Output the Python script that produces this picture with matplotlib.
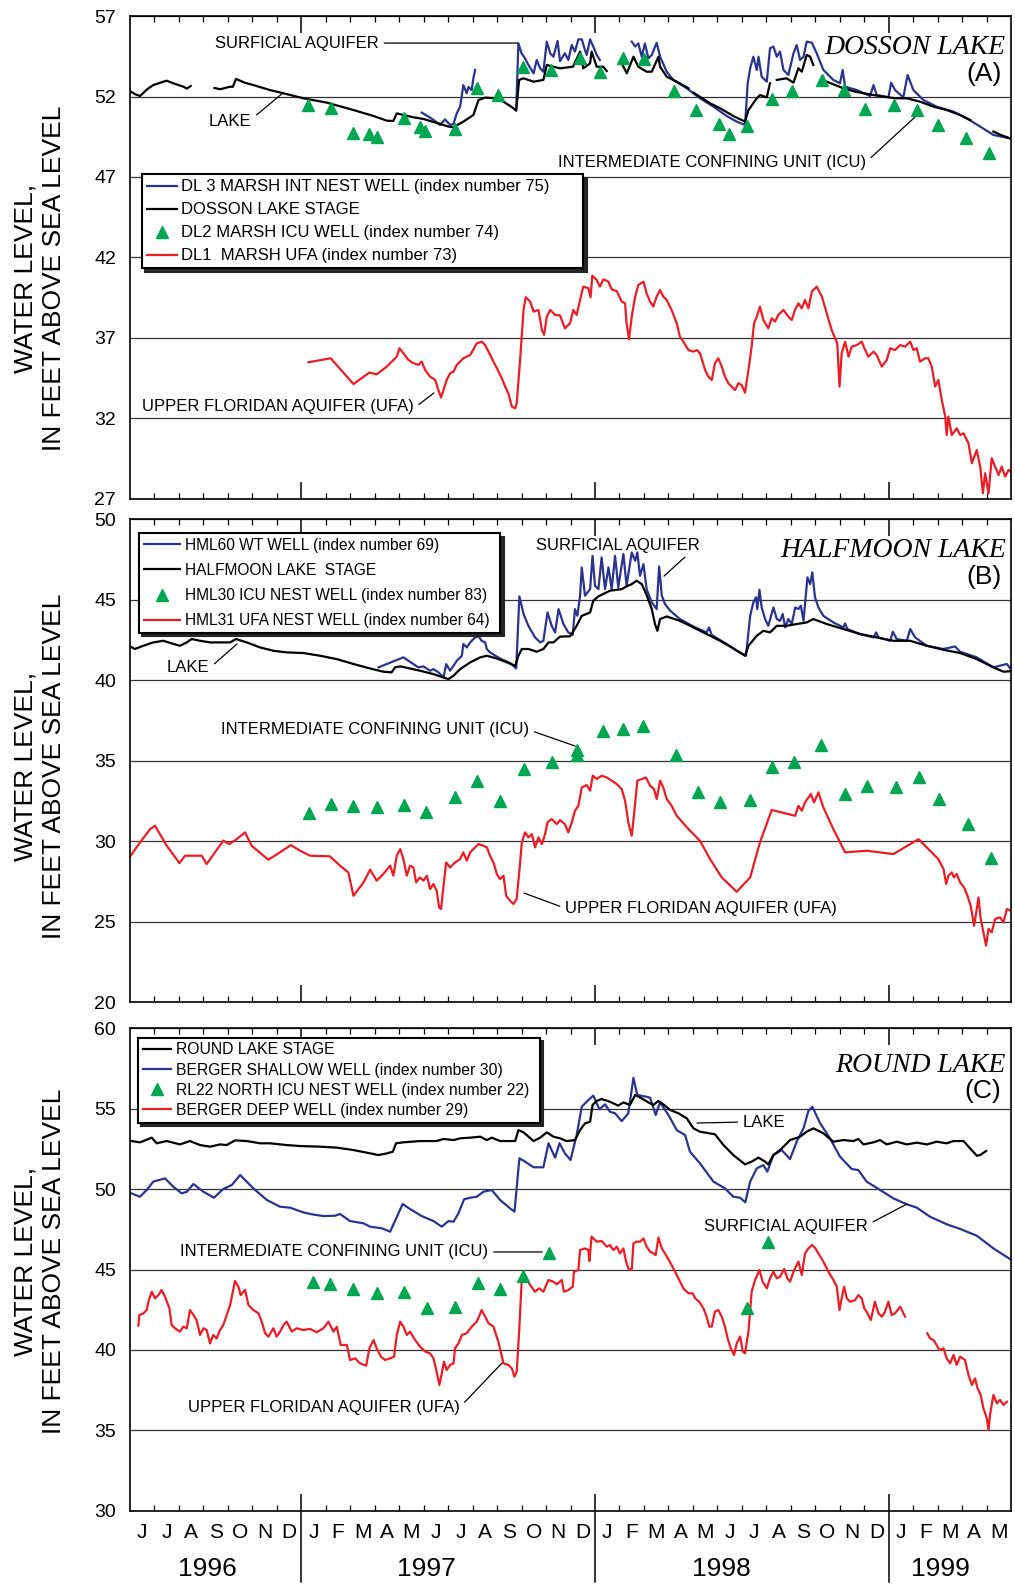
import numpy as np
import matplotlib
matplotlib.use("Agg")
import matplotlib.pyplot as plt
from matplotlib.transforms import blended_transform_factory

plt.rcParams["font.family"] = ["Liberation Sans", "DejaVu Sans"]

BLUE = "#2b3391"
RED = "#ed1c24"
GREEN = "#00a651"
GRID = "#333333"

# x is months counted from 1 Jan 1996 (5 = 1 June 1996, 41 = 1 June 1999)
MONTH_INITIALS = list("JFMAMJJASOND")
YEARS = ["1996", "1997", "1998", "1999"]
YEAR_LABEL_X = [8.15, 17.1, 29.15, 38.1]
YEAR_BREAKS = [12, 24, 36]

# ---------------- panel A : Dosson Lake ----------------
a_lake = [(5.0, 52.34), (5.2, 52.15), (5.41, 52.03), (5.7, 52.45), (5.95, 52.71), (6.36, 52.92),
          (6.5, 52.98), (6.77, 52.82), (7.0, 52.7), (7.18, 52.61), (7.32, 52.49), (7.48, 52.65), None,
          (8.45, 52.53), (8.68, 52.45), (9.09, 52.61), (9.2, 52.6), (9.33, 53.09), (9.7, 52.85),
          (10.04, 52.71), (10.72, 52.40), (11.27, 52.2), (12.08, 51.89), (13.04, 51.62), (14.13, 51.16),
          (14.95, 50.79), (15.49, 50.5), (15.76, 50.48), (15.9, 50.95), (16.17, 50.85), (16.58, 50.71),
          (17.0, 50.6), (17.26, 50.48), (17.67, 50.3), (18.01, 50.13), (18.22, 50.1), (18.62, 50.44),
          (19.03, 50.85), (19.24, 51.78), (19.51, 51.93), (19.85, 51.9), (20.26, 51.68), (20.67, 51.27),
          (20.78, 51.12), (20.9, 53.03), (21.08, 53.13), (21.49, 52.92), (21.89, 53.03), (22.03, 53.96),
          (22.3, 53.85), (22.57, 53.75), (23.1, 53.85), (23.39, 54.79), (23.52, 53.75), (23.8, 54.06),
          (23.86, 54.79), (24.07, 53.85), (24.34, 53.85), (24.48, 53.58), None,
          (25.09, 54.06), (25.3, 53.44), (25.57, 54.47), (25.77, 53.85), (26.11, 53.54), (26.32, 53.54),
          (26.59, 54.47), (26.66, 53.85), (26.93, 53.23), (27.34, 52.92), (27.82, 52.51), None,
          (28.02, 52.24), (28.7, 51.58), (29.11, 51.27), (29.65, 50.79), (30.13, 50.44), (30.27, 51.16),
          (30.61, 51.89), (30.74, 52.09), (31.02, 51.95), (31.15, 52.82), None,
          (31.43, 53.03), (31.83, 53.13), (32.11, 52.86), (32.31, 53.75), (32.45, 53.54), (32.65, 54.58),
          (32.79, 54.48), (32.92, 53.96), None,
          (33.47, 52.92), (34.15, 52.51), (34.63, 52.3), (35.38, 52.09), (36.26, 51.89), (36.74, 51.89),
          (37.28, 51.68), (37.83, 51.37), (38.37, 51.16), (38.92, 50.85), (39.33, 50.54), None,
          (40.28, 49.82), (40.6, 49.6), (40.96, 49.4)]

a_surf = [(16.92, 51.0), (17.19, 50.75), (17.4, 50.55), (17.67, 50.23), (17.87, 50.58), (18.08, 50.23),
          (18.22, 50.3), (18.35, 50.95), (18.49, 51.37), (18.62, 52.71), (18.76, 52.2), (18.83, 52.6),
          (18.96, 52.4), (19.03, 53.13), (19.1, 53.65), None,
          (20.78, 51.16), (20.87, 55.3), (21.0, 54.68), (21.14, 54.37), (21.28, 53.96), (21.49, 53.44),
          (21.62, 54.27), (21.76, 53.75), (21.89, 53.54), (22.03, 55.41), (22.17, 54.68), (22.3, 54.47),
          (22.47, 55.45), (22.57, 54.2), (22.77, 54.68), (22.91, 54.27), (23.05, 55.2), (23.18, 54.79),
          (23.32, 55.55), (23.46, 55.55), (23.59, 54.89), (23.66, 54.58), (23.8, 55.55), (23.93, 55.1),
          (24.07, 54.58), (24.2, 54.27), None,
          (25.5, 55.41), (25.64, 55.1), (25.77, 55.3), (25.91, 54.47), (26.04, 55.3), (26.18, 54.37),
          (26.32, 54.58), (26.52, 55.34), (26.66, 54.47), (26.93, 53.54), (27.2, 53.03), (27.75, 52.51),
          (28.29, 51.89), (28.84, 51.37), (29.38, 50.79), (29.79, 50.44), (30.13, 50.23), (30.24, 52.82),
          (30.34, 53.75), (30.47, 54.47), (30.61, 53.65), (30.68, 54.47), (30.81, 53.23), (31.02, 52.92),
          (31.15, 54.99), (31.29, 55.1), (31.43, 54.47), (31.56, 54.79), (31.7, 53.65), (31.9, 53.34),
          (32.11, 54.68), (32.24, 55.2), (32.38, 54.27), (32.52, 54.47), (32.65, 55.41), (32.86, 55.34),
          (33.06, 54.68), (33.33, 53.65), (33.74, 53.03), (34.01, 52.82), (34.12, 53.65), (34.22, 52.61),
          (34.7, 52.4), (35.24, 52.03), (35.38, 52.71), (35.51, 52.09), (35.99, 51.95), (36.1, 52.86),
          (36.26, 52.4), (36.6, 51.95), (36.77, 53.34), (37.01, 52.4), (37.42, 51.78), (37.96, 51.37),
          (38.65, 51.06), (39.19, 50.64), (39.74, 50.13), (40.28, 49.61), (40.96, 49.4)]

a_icu_m = [12.29, 13.2, 14.13, 14.77, 15.11, 16.21, 16.85, 17.06, 18.28, 19.17, 20.05, 21.05, 22.19,
           23.39, 24.2, 25.13, 26.0, 27.23, 28.13, 29.08, 29.48, 30.23, 31.25, 32.04, 33.26, 34.18,
           35.04, 36.23, 37.15, 38.03, 39.16, 40.08]
a_icu_v = [51.47, 51.31, 49.71, 49.65, 49.51, 50.64, 50.13, 49.88, 49.96, 52.51, 52.09, 53.85, 53.65,
           54.37, 53.54, 54.37, 54.31, 52.34, 51.16, 50.29, 49.67, 50.19, 51.82, 52.34, 53.03, 52.4,
           51.2, 51.47, 51.16, 50.23, 49.4, 48.51]

a_ufa = [(12.29, 35.49), (13.2, 35.74), (14.13, 34.14), (14.78, 34.85), (15.08, 34.74), (15.49, 35.22),
         (15.9, 35.84), (16.01, 36.36), (16.17, 36.05), (16.38, 35.63), (16.58, 35.43), (16.78, 35.33),
         (16.92, 35.53), (17.06, 35.01), (17.26, 34.6), (17.47, 34.39), (17.6, 33.77), (17.71, 33.3),
         (17.81, 33.77), (17.94, 34.39), (18.08, 34.81), (18.22, 34.91), (18.35, 35.32), (18.62, 35.74),
         (18.9, 35.94), (19.17, 36.67), (19.37, 36.77), (19.51, 36.56), (19.65, 36.15), (19.78, 35.74),
         (19.99, 35.12), (20.19, 34.5), (20.33, 33.98), (20.46, 33.56), (20.6, 32.74), (20.74, 32.63),
         (20.8, 32.94), (20.94, 35.63), (21.08, 38.74), (21.17, 39.53), (21.35, 39.26), (21.49, 38.64),
         (21.69, 38.74), (21.83, 37.5), (21.92, 37.19), (22.03, 38.33), (22.17, 38.74), (22.37, 38.43),
         (22.57, 38.4), (22.77, 37.6), (22.98, 37.91), (23.11, 38.74), (23.25, 38.43), (23.39, 39.36),
         (23.52, 40.19), (23.73, 40.09), (23.82, 39.53), (23.89, 40.87), (24.07, 40.6), (24.2, 40.19),
         (24.34, 40.64), (24.55, 40.5), (24.68, 40.02), (24.89, 39.91), (25.09, 39.26), (25.23, 39.15),
         (25.29, 37.91), (25.39, 36.92), (25.5, 38.33), (25.64, 39.57), (25.77, 40.29), (25.98, 40.5),
         (26.11, 39.77), (26.25, 39.26), (26.38, 38.95), (26.52, 39.57), (26.66, 39.98), (26.79, 39.57),
         (26.93, 39.36), (27.13, 38.74), (27.34, 37.91), (27.47, 37.08), (27.61, 36.77), (27.82, 36.25),
         (28.02, 36.15), (28.16, 36.25), (28.29, 36.05), (28.5, 35.01), (28.63, 34.6), (28.77, 34.39),
         (28.9, 35.43), (29.04, 35.74), (29.18, 35.22), (29.31, 34.6), (29.45, 34.19), (29.58, 33.98),
         (29.72, 33.77), (29.86, 34.19), (29.99, 34.08), (30.13, 33.6), (30.27, 35.01), (30.4, 36.46),
         (30.5, 37.91), (30.61, 38.33), (30.74, 38.95), (30.88, 38.12), (31.08, 37.6), (31.22, 38.22),
         (31.36, 38.02), (31.49, 38.43), (31.7, 38.74), (31.9, 38.33), (32.04, 38.12), (32.17, 38.74),
         (32.31, 39.15), (32.45, 38.84), (32.58, 39.36), (32.72, 38.84), (32.86, 39.88), (33.06, 40.19),
         (33.27, 39.57), (33.47, 38.53), (33.67, 37.5), (33.81, 36.98), (33.9, 36.67), (33.99, 33.98),
         (34.08, 36.05), (34.22, 36.77), (34.36, 35.84), (34.49, 36.46), (34.7, 36.56), (34.9, 36.77),
         (35.04, 36.25), (35.17, 35.84), (35.38, 36.15), (35.51, 35.94), (35.72, 35.22), (35.92, 35.63),
         (36.06, 36.36), (36.26, 36.25), (36.47, 36.56), (36.67, 36.46), (36.88, 36.77), (37.01, 36.25),
         (37.15, 36.36), (37.28, 35.53), (37.49, 35.74), (37.62, 35.74), (37.76, 35.22), (37.9, 33.98),
         (38.03, 34.39), (38.17, 33.15), (38.31, 32.12), (38.37, 30.97), (38.44, 32.12), (38.58, 30.97),
         (38.78, 31.39), (38.92, 30.97), (39.06, 31.08), (39.26, 30.46), (39.4, 29.22), (39.6, 30.04),
         (39.74, 29.01), (39.85, 27.35), (39.94, 28.6), (40.08, 27.35), (40.21, 29.53), (40.35, 29.01),
         (40.49, 28.49), (40.62, 29.01), (40.76, 28.39), (40.9, 28.8), (40.99, 28.7)]

# ---------------- panel B : Halfmoon Lake ----------------
b_lake = [(5.0, 42.09), (5.2, 41.93), (5.54, 42.13), (5.95, 42.34), (6.36, 42.44), (6.7, 42.28),
          (7.04, 42.13), (7.32, 42.34), (7.52, 42.55), (7.86, 42.44), (8.27, 42.34), (8.68, 42.34),
          (9.09, 42.34), (9.33, 42.55), (9.77, 42.34), (10.31, 42.03), (10.86, 41.82), (11.4, 41.72),
          (12.08, 41.68), (12.77, 41.51), (13.45, 41.3), (14.13, 41.0), (14.81, 40.72), (15.35, 40.52),
          (15.69, 40.48), (15.83, 40.79), (16.04, 40.85), (16.44, 40.72), (16.85, 40.58), (17.4, 40.37),
          (17.81, 40.16), (18.01, 40.06), (18.22, 40.27), (18.49, 40.68), (18.9, 41.1), (19.31, 41.41),
          (19.58, 41.51), (19.99, 41.34), (20.4, 41.1), (20.74, 40.89), (20.87, 41.51), (21.01, 41.93),
          (21.28, 41.93), (21.62, 41.76), (21.89, 41.93), (22.1, 42.34), (22.3, 42.34), (22.57, 42.7),
          (22.98, 42.72), (23.25, 43.37), (23.46, 43.99), (23.8, 44.2), (23.93, 44.93), (24.14, 45.2),
          (24.61, 45.55), (25.09, 45.65), (25.29, 45.82), (25.5, 45.96), (25.7, 46.17), (25.91, 45.96),
          (26.11, 45.28), (26.32, 44.41), (26.45, 43.48), (26.55, 43.06), (26.66, 43.79), (26.93, 43.95),
          (27.47, 43.68), (28.02, 43.27), (28.56, 42.86), (29.11, 42.44), (29.65, 41.97), (30.13, 41.51),
          (30.27, 42.13), (30.61, 42.75), (30.88, 43.06), (31.15, 42.96), (31.43, 43.37), (31.83, 43.37),
          (32.24, 43.48), (32.65, 43.58), (32.92, 43.79), (33.47, 43.48), (34.15, 43.17), (34.83, 42.86),
          (35.51, 42.65), (36.19, 42.44), (36.87, 42.44), (37.56, 42.13), (38.24, 41.88), (38.92, 41.68),
          (39.6, 41.3), (40.28, 40.79), (40.69, 40.52), (41.0, 40.55)]

b_surf = [(15.15, 40.79), (16.17, 41.41), (16.78, 40.79), (16.99, 40.85), (17.26, 40.58), (17.4, 40.68),
          (17.6, 40.48), (17.81, 40.17), (17.92, 40.99), (18.08, 40.58), (18.22, 40.89), (18.35, 41.2),
          (18.56, 41.51), (18.62, 42.24), (18.76, 42.03), (18.9, 42.34), (19.1, 42.65), (19.24, 42.72),
          (19.37, 42.44), (19.51, 42.34), (19.58, 41.93), (19.71, 41.72), (20.12, 41.34), (20.53, 41.06),
          (20.78, 40.72), (20.91, 45.2), (21.08, 44.1), (21.28, 43.37), (21.55, 42.65), (21.76, 42.34),
          (21.89, 42.44), (22.06, 44.2), (22.23, 43.37), (22.37, 42.96), (22.51, 44.41), (22.71, 43.48),
          (22.91, 42.96), (23.09, 42.8), (23.18, 44.41), (23.28, 43.99), (23.39, 45.24), (23.46, 47.0),
          (23.59, 45.24), (23.8, 45.65), (23.9, 47.72), (24.0, 45.86), (24.14, 45.65), (24.27, 47.62),
          (24.41, 45.65), (24.55, 47.0), (24.68, 45.65), (24.82, 47.72), (24.95, 45.76), (25.16, 47.83),
          (25.29, 45.86), (25.5, 47.93), (25.64, 47.41), (25.73, 47.93), (25.84, 46.48), (25.98, 47.2),
          (26.11, 45.65), (26.32, 44.82), (26.52, 44.41), (26.62, 47.06), (26.73, 45.24), (26.86, 44.72),
          (27.07, 44.31), (27.47, 43.79), (28.02, 43.33), (28.56, 42.96), (28.66, 43.27), (28.77, 42.8),
          (29.38, 42.24), (29.79, 41.82), (30.17, 41.51), (30.34, 43.99), (30.47, 44.82), (30.58, 45.14),
          (30.63, 44.41), (30.72, 45.61), (30.81, 44.51), (30.95, 43.79), (31.08, 43.37), (31.29, 44.51),
          (31.43, 43.79), (31.56, 43.68), (31.67, 44.1), (31.77, 43.27), (31.9, 43.79), (32.04, 43.48),
          (32.18, 44.51), (32.31, 44.41), (32.41, 44.62), (32.52, 43.68), (32.68, 46.38), (32.79, 45.96),
          (32.88, 46.69), (32.99, 45.14), (33.13, 44.51), (33.33, 43.99), (33.74, 43.58), (34.15, 43.27),
          (34.22, 43.52), (34.31, 43.17), (34.83, 42.86), (35.38, 42.65), (35.49, 42.96), (35.58, 42.65),
          (36.06, 42.44), (36.17, 43.0), (36.33, 42.55), (36.74, 42.44), (36.88, 43.17), (37.08, 42.65),
          (37.56, 42.13), (38.24, 41.93), (38.71, 42.09), (38.92, 41.76), (39.6, 41.41), (40.28, 40.79),
          (40.83, 41.0), (41.0, 40.65)]

b_icu_m = [12.32, 13.22, 14.13, 15.08, 16.2, 17.1, 18.28, 19.17, 20.1, 21.1, 22.23, 23.28, 23.28,
           24.34, 25.16, 25.98, 27.3, 28.2, 29.11, 30.34, 31.22, 32.15, 33.24, 34.22, 35.13, 36.3,
           37.22, 38.07, 39.23, 40.19]
b_icu_v = [31.74, 32.3, 32.15, 32.13, 32.24, 31.82, 32.71, 33.75, 32.5, 34.47, 34.89, 35.65, 35.35,
           36.85, 36.96, 37.12, 35.34, 33.02, 32.44, 32.55, 34.57, 34.89, 35.96, 32.92, 33.44, 33.33,
           33.95, 32.61, 31.06, 28.92]

b_ufa = [(5.0, 29.03), (5.41, 29.92), (5.82, 30.74), (6.02, 30.95), (6.5, 29.71), (7.02, 28.63),
         (7.25, 29.09), (7.93, 29.09), (8.13, 28.57), (8.47, 29.3), (8.81, 30.02), (9.06, 29.81),
         (9.36, 30.12), (9.7, 30.54), (9.97, 29.71), (10.65, 28.84), (11.13, 29.3), (11.57, 29.75),
         (11.95, 29.4), (12.36, 29.09), (13.17, 29.05), (13.58, 28.47), (13.92, 28.05), (14.13, 26.6),
         (14.54, 27.43), (14.81, 28.22), (15.08, 27.54), (15.35, 27.95), (15.63, 28.47), (15.76, 27.85),
         (15.9, 29.09), (16.04, 29.5), (16.17, 28.88), (16.31, 27.85), (16.44, 28.47), (16.58, 28.36),
         (16.69, 27.43), (16.85, 27.74), (16.99, 27.54), (17.13, 27.85), (17.26, 27.02), (17.4, 27.33),
         (17.53, 26.91), (17.63, 25.88), (17.71, 25.78), (17.81, 27.22), (17.92, 28.67), (18.08, 28.36),
         (18.28, 28.67), (18.49, 28.88), (18.62, 29.3), (18.76, 28.78), (18.9, 29.3), (19.03, 29.5),
         (19.24, 29.81), (19.44, 29.71), (19.58, 29.61), (19.71, 29.09), (19.85, 28.67), (19.99, 27.95),
         (20.12, 27.64), (20.26, 27.85), (20.37, 26.6), (20.53, 26.29), (20.67, 26.09), (20.8, 26.4),
         (20.94, 28.67), (21.01, 29.92), (21.14, 30.54), (21.28, 30.23), (21.42, 30.43), (21.55, 29.61),
         (21.69, 30.23), (21.83, 29.81), (21.96, 30.43), (22.06, 31.16), (22.23, 31.37), (22.44, 31.05),
         (22.57, 31.3), (22.77, 31.05), (22.91, 30.54), (23.05, 31.16), (23.18, 31.88), (23.32, 32.19),
         (23.46, 33.33), (23.66, 33.48), (23.8, 33.13), (23.91, 34.06), (24.07, 33.85), (24.27, 34.06),
         (24.48, 33.95), (24.68, 33.75), (24.89, 33.54), (25.09, 33.23), (25.23, 32.5), (25.36, 31.16),
         (25.5, 30.33), (25.59, 31.57), (25.73, 33.75), (25.91, 33.85), (26.08, 33.95), (26.25, 33.44),
         (26.41, 33.23), (26.52, 32.61), (26.66, 33.75), (26.79, 33.33), (26.93, 32.61), (27.13, 32.19),
         (27.34, 31.57), (27.82, 30.74), (28.29, 30.02), (28.7, 28.88), (29.18, 27.74), (29.79, 26.85),
         (30.34, 27.74), (30.74, 29.92), (31.22, 31.93), (32.18, 31.57), (32.31, 32.19), (32.45, 31.88),
         (32.58, 32.4), (32.72, 32.71), (32.82, 32.92), (32.95, 32.4), (33.13, 33.02), (33.33, 32.09),
         (33.74, 30.74), (34.22, 29.3), (35.1, 29.4), (36.19, 29.19), (37.22, 30.12), (38.03, 28.88),
         (38.24, 28.26), (38.35, 27.33), (38.44, 27.85), (38.58, 28.05), (38.67, 27.74), (38.78, 27.95),
         (38.92, 27.43), (39.08, 27.12), (39.22, 26.6), (39.35, 25.98), (39.49, 24.74), (39.6, 25.78),
         (39.67, 26.5), (39.76, 25.16), (39.87, 24.33), (39.98, 23.5), (40.08, 24.54), (40.21, 24.33),
         (40.35, 25.16), (40.55, 25.26), (40.69, 24.95), (40.83, 25.78), (40.99, 25.67)]

# ---------------- panel C : Round Lake ----------------
c_lake = [(5.05, 52.98), (5.41, 52.9), (5.89, 53.19), (6.09, 52.84), (6.5, 52.98), (7.04, 52.77),
          (7.45, 52.98), (7.86, 52.73), (8.27, 52.63), (8.68, 52.77), (8.95, 52.73), (9.29, 53.02),
          (9.77, 52.98), (10.31, 52.84), (10.72, 52.84), (11.4, 52.73), (11.95, 52.67), (12.77, 52.63),
          (13.45, 52.57), (14.13, 52.42), (14.67, 52.26), (15.15, 52.11), (15.49, 52.21), (15.74, 52.32),
          (15.87, 52.84), (16.17, 52.9), (16.85, 52.98), (17.53, 52.98), (17.81, 53.11), (18.22, 53.04),
          (18.49, 53.15), (18.9, 53.19), (19.31, 53.25), (19.58, 53.04), (19.78, 53.19), (20.12, 52.98),
          (20.74, 52.98), (20.87, 53.66), (21.08, 53.52), (21.49, 52.98), (21.76, 53.19), (22.03, 53.52),
          (22.3, 53.25), (22.57, 53.15), (22.84, 52.98), (23.18, 53.04), (23.39, 53.66), (23.59, 54.08),
          (23.8, 54.18), (23.9, 55.22), (24.07, 55.47), (24.27, 55.59), (24.61, 55.42), (24.95, 55.18),
          (25.16, 55.38), (25.43, 55.22), (25.64, 55.84), (25.91, 55.63), (26.18, 55.38), (26.38, 55.22),
          (26.59, 55.47), (26.79, 55.26), (27.07, 54.91), (27.41, 54.7), (27.75, 54.39), (28.02, 53.77),
          (28.29, 53.56), (28.9, 53.4), (29.25, 52.73), (29.65, 52.11), (30.13, 51.53), (30.4, 51.7),
          (30.68, 51.95), (30.95, 51.7), (31.08, 51.53), (31.29, 52.11), (31.56, 52.42), (31.97, 53.04),
          (32.38, 53.25), (32.65, 53.56), (32.92, 53.77), (33.33, 53.46), (33.74, 52.94), (34.15, 53.04),
          (34.56, 52.98), (34.76, 53.11), (34.97, 52.77), (35.38, 52.9), (35.65, 53.04), (35.92, 52.77),
          (36.33, 52.94), (36.74, 52.77), (37.15, 52.88), (37.56, 52.77), (37.96, 52.94), (38.37, 52.84),
          (38.65, 52.98), (39.06, 52.98), (39.33, 52.52), (39.6, 52.07), (39.74, 52.11), (39.98, 52.36)]

c_surf = [(5.05, 49.73), (5.41, 49.52), (5.68, 49.94), (5.95, 50.46), (6.43, 50.66), (6.77, 50.14),
          (7.11, 49.73), (7.32, 49.83), (7.59, 50.31), (8.0, 49.83), (8.43, 49.46), (8.81, 50.0),
          (9.16, 50.25), (9.5, 50.87), (10.04, 50.04), (10.59, 49.32), (11.13, 48.9), (11.54, 48.84),
          (12.08, 48.55), (12.43, 48.43), (12.9, 48.32), (13.38, 48.34), (13.58, 48.45), (13.99, 48.01),
          (14.54, 47.87), (14.81, 47.66), (15.29, 47.56), (15.63, 47.35), (16.14, 49.07), (16.44, 48.76),
          (16.92, 48.32), (17.4, 48.01), (17.74, 47.66), (18.01, 48.01), (18.22, 47.97), (18.42, 48.49),
          (18.65, 49.36), (18.9, 49.46), (19.17, 49.52), (19.44, 49.83), (19.78, 49.94), (20.12, 49.32),
          (20.53, 48.8), (20.71, 48.59), (20.91, 51.91), (21.14, 51.7), (21.49, 51.35), (21.89, 51.35),
          (22.1, 52.84), (22.37, 51.95), (22.55, 52.84), (22.77, 52.22), (23.0, 51.8), (23.25, 53.35),
          (23.46, 55.11), (23.73, 55.53), (23.93, 55.8), (24.18, 54.95), (24.41, 55.26), (24.61, 54.8),
          (24.82, 54.7), (25.09, 54.22), (25.36, 54.7), (25.57, 56.91), (25.73, 55.84), (26.11, 55.73),
          (26.25, 55.67), (26.48, 54.6), (26.66, 55.38), (27.0, 54.6), (27.34, 53.66), (27.68, 53.35),
          (27.88, 52.32), (28.29, 51.59), (28.84, 50.46), (29.31, 50.04), (29.65, 49.52), (29.93, 49.46),
          (30.14, 49.17), (30.34, 50.46), (30.61, 51.28), (30.88, 51.49), (31.04, 51.08), (31.29, 52.11),
          (31.63, 52.42), (31.97, 51.86), (32.24, 52.94), (32.52, 53.77), (32.72, 54.85), (32.88, 55.11),
          (33.2, 54.08), (33.6, 53.15), (34.01, 52.01), (34.49, 51.24), (34.76, 51.18), (35.1, 50.46),
          (35.65, 49.94), (36.19, 49.42), (36.74, 49.05), (37.15, 48.84), (37.69, 48.28), (38.37, 47.81),
          (38.92, 47.52), (39.6, 47.1), (40.28, 46.31), (40.96, 45.65)]

c_icu_m = [12.49, 13.17, 14.1, 15.11, 16.21, 17.12, 18.28, 19.2, 20.12, 21.04, 22.14, 30.2, 31.06]
c_icu_v = [44.24, 44.08, 43.79, 43.52, 43.58, 42.63, 42.65, 44.14, 43.79, 44.6, 46.0, 42.63, 46.73]

c_ufa = [(5.34, 41.51), (5.38, 42.17), (5.54, 42.27), (5.68, 42.48), (5.75, 43.0), (5.89, 43.62),
         (6.02, 43.21), (6.16, 43.41), (6.29, 43.73), (6.43, 43.31), (6.61, 42.59), (6.7, 41.55),
         (6.84, 41.35), (7.04, 41.14), (7.18, 41.45), (7.32, 41.35), (7.45, 42.48), (7.59, 42.17),
         (7.72, 41.86), (7.86, 40.93), (8.0, 41.35), (8.13, 41.24), (8.27, 40.41), (8.4, 40.93),
         (8.54, 40.72), (8.68, 41.24), (8.81, 41.55), (8.95, 42.17), (9.09, 42.79), (9.2, 43.62),
         (9.29, 44.29), (9.43, 43.93), (9.52, 43.41), (9.7, 43.73), (9.84, 42.79), (10.04, 42.48),
         (10.25, 42.28), (10.38, 41.76), (10.52, 41.04), (10.65, 40.83), (10.86, 41.35), (10.99, 40.83),
         (11.13, 41.14), (11.27, 41.55), (11.4, 41.76), (11.61, 41.14), (11.81, 41.35), (12.08, 41.24),
         (12.36, 41.31), (12.63, 41.1), (12.9, 41.35), (13.11, 41.76), (13.31, 41.14), (13.45, 41.45),
         (13.61, 40.31), (13.86, 40.31), (13.99, 39.38), (14.2, 39.48), (14.4, 39.17), (14.65, 39.03),
         (14.78, 40.1), (14.95, 40.62), (15.08, 40.1), (15.25, 39.59), (15.42, 39.38), (15.63, 39.48),
         (15.79, 39.59), (15.9, 40.93), (16.04, 41.76), (16.17, 41.45), (16.31, 40.93), (16.44, 41.14),
         (16.65, 40.62), (16.85, 40.21), (17.06, 39.9), (17.26, 39.79), (17.4, 39.48), (17.53, 38.65),
         (17.64, 37.83), (17.74, 38.55), (17.83, 39.28), (17.94, 38.76), (18.08, 39.07), (18.22, 39.17),
         (18.28, 40.1), (18.42, 40.41), (18.56, 40.93), (18.76, 41.04), (18.96, 41.45), (19.17, 41.76),
         (19.37, 42.48), (19.51, 42.07), (19.65, 41.66), (19.85, 41.45), (20.05, 40.52), (20.26, 39.17),
         (20.46, 39.07), (20.6, 38.86), (20.71, 38.34), (20.8, 38.65), (20.9, 41.14), (21.01, 44.45),
         (21.14, 44.55), (21.35, 44.04), (21.55, 43.62), (21.72, 43.83), (21.89, 43.62), (22.1, 44.35),
         (22.3, 44.24), (22.44, 44.08), (22.64, 44.35), (22.73, 43.62), (22.91, 43.72), (23.09, 43.93),
         (23.14, 44.86), (23.32, 44.97), (23.39, 46.21), (23.59, 46.31), (23.73, 46.21), (23.77, 45.53),
         (23.86, 47.04), (24.07, 46.73), (24.27, 46.77), (24.48, 46.42), (24.61, 46.52), (24.75, 46.21),
         (24.89, 46.42), (25.02, 46.0), (25.16, 46.31), (25.27, 45.49), (25.36, 45.07), (25.5, 44.97),
         (25.57, 46.62), (25.7, 46.73), (25.84, 46.73), (25.98, 46.93), (26.11, 46.42), (26.25, 46.11),
         (26.38, 46.0), (26.48, 45.9), (26.59, 46.98), (26.73, 46.31), (26.9, 45.9), (27.13, 45.28),
         (27.34, 44.66), (27.61, 43.83), (27.82, 43.52), (27.99, 43.52), (28.09, 43.21), (28.26, 43.0),
         (28.43, 42.59), (28.56, 42.07), (28.67, 41.45), (28.77, 41.45), (28.9, 42.38), (29.04, 42.48),
         (29.18, 42.07), (29.31, 41.45), (29.42, 40.72), (29.55, 40.1), (29.68, 39.69), (29.79, 40.41),
         (29.93, 40.83), (30.04, 39.9), (30.13, 39.79), (30.27, 41.14), (30.4, 43.62), (30.54, 44.35),
         (30.72, 44.97), (30.85, 44.24), (31.02, 43.83), (31.15, 44.45), (31.29, 44.86), (31.43, 44.45),
         (31.56, 44.55), (31.73, 45.03), (31.86, 44.45), (31.97, 44.24), (32.11, 44.86), (32.31, 45.49),
         (32.45, 44.66), (32.58, 46.0), (32.72, 46.31), (32.86, 46.52), (32.99, 46.35), (33.13, 46.0),
         (33.33, 45.49), (33.54, 44.86), (33.74, 44.35), (33.88, 43.93), (33.99, 42.48), (34.08, 43.21),
         (34.18, 43.93), (34.29, 43.21), (34.42, 43.0), (34.63, 43.1), (34.76, 43.41), (34.9, 43.21),
         (35.0, 42.59), (35.1, 42.38), (35.27, 41.86), (35.44, 43.0), (35.58, 42.28), (35.72, 42.07),
         (35.85, 42.38), (35.99, 43.0), (36.12, 42.17), (36.26, 42.28), (36.47, 42.69), (36.67, 42.07), None,
         (37.58, 41.04), (37.69, 40.72), (37.83, 40.62), (37.96, 40.31), (38.07, 40.0), (38.24, 40.1),
         (38.37, 39.48), (38.51, 39.17), (38.65, 39.69), (38.78, 39.07), (38.92, 39.59), (39.12, 39.38),
         (39.26, 38.45), (39.4, 37.83), (39.53, 38.24), (39.63, 37.62), (39.76, 37.21), (39.87, 36.38),
         (40.01, 35.76), (40.08, 35.03), (40.14, 35.96), (40.28, 37.21), (40.42, 36.69), (40.55, 36.9),
         (40.69, 36.59), (40.83, 36.79)]


def split(points):
    xs = [np.nan if p is None else p[0] for p in points]
    ys = [np.nan if p is None else p[1] for p in points]
    return xs, ys


def setup(ax, ymin, ymax):
    ax.set_xlim(5, 41)
    ax.set_ylim(ymin, ymax)
    ax.set_yticks(np.arange(ymin, ymax + 1, 5))
    ax.yaxis.grid(True, color=GRID, lw=0.9)
    ax.set_axisbelow(True)
    ax.set_xticks(YEAR_BREAKS)
    ax.set_xticks([m for m in range(6, 41) if m % 12], minor=True)
    ax.tick_params(axis="x", which="major", direction="in", length=12, width=1.1,
                   top=True, labelbottom=False)
    ax.tick_params(axis="x", which="minor", direction="in", length=4, width=0.9, top=True)
    ax.tick_params(axis="y", length=0, labelsize=14, pad=10)
    for s in ax.spines.values():
        s.set_linewidth(1.2)


def draw(ax, lake, surf, icu_m, icu_v, ufa):
    hs = ax.plot(*split(surf), color=BLUE, lw=1.6)[0]
    hl = ax.plot(*split(lake), color="black", lw=1.6)[0]
    hu = ax.plot(*split(ufa), color=RED, lw=1.6)[0]
    hi = ax.plot(icu_m, icu_v, ls="none", marker="^", ms=8, color=GREEN, zorder=4)[0]
    return hs, hl, hi, hu


def legend(ax, handles, labels, box, size, spacing, hlen, hpad):
    leg = ax.legend(handles, labels, loc="upper left", bbox_to_anchor=box, mode="expand",
                    fontsize=size, frameon=True, fancybox=False, edgecolor="black", framealpha=1,
                    shadow={"ox": 2.5, "oy": -2.5, "color": "0.15", "alpha": 1},
                    handlelength=hlen, handletextpad=hpad, labelspacing=spacing, borderpad=0.3,
                    numpoints=1, borderaxespad=0)
    leg.get_frame().set_linewidth(1.5)


def note(ax, text, xytext, xy, relpos=(1, 0.5)):
    ax.annotate(text, xy=xy, xytext=xytext, fontsize=12, ha="left", va="center",
                arrowprops=dict(arrowstyle="-", color="black", lw=0.9, shrinkA=2, shrinkB=0,
                                relpos=relpos))


def title(ax, name, letter, y):
    ax.text(0.994, y, name, transform=ax.transAxes, ha="right", va="center", fontsize=20,
            family=["Liberation Serif", "DejaVu Serif"], style="italic")
    ax.text(0.989, y - 0.054, letter, transform=ax.transAxes, ha="right", va="center", fontsize=19)


fig = plt.figure(figsize=(10.15, 15.85), dpi=100)
ax_a = fig.add_axes([0.1281, 0.6852, 0.868, 0.3047])
ax_b = fig.add_axes([0.1281, 0.3678, 0.868, 0.3047])
ax_c = fig.add_axes([0.1281, 0.0467, 0.868, 0.3047])

# panel A
setup(ax_a, 27, 57)
hs, hl, hi, hu = draw(ax_a, a_lake, a_surf, a_icu_m, a_icu_v, a_ufa)
legend(ax_a, [hs, hl, hi, hu],
       ["DL 3 MARSH INT NEST WELL (index number 75)", "DOSSON LAKE STAGE",
        "DL2 MARSH ICU WELL (index number 74)", "DL1  MARSH UFA (index number 73)"],
       (0.0133, 0.47, 0.501, 0.202), 12, 0.48, 1.8, 0.28)
title(ax_a, "DOSSON LAKE", "(A)", 0.934)
note(ax_a, "SURFICIAL AQUIFER", (8.47, 55.32), (20.85, 55.32))
note(ax_a, "LAKE", (8.23, 50.42), (11.25, 52.22), relpos=(1, 0.7))
note(ax_a, "INTERMEDIATE CONFINING UNIT (ICU)", (22.49, 47.93), (37.08, 50.73))
note(ax_a, "UPPER FLORIDAN AQUIFER (UFA)", (5.49, 32.72), (17.42, 33.59), relpos=(1, 0.4))

# panel B
setup(ax_b, 20, 50)
hs, hl, hi, hu = draw(ax_b, b_lake, b_surf, b_icu_m, b_icu_v, b_ufa)
legend(ax_b, [hs, hl, hi, hu],
       ["HML60 WT WELL (index number 69)", "HALFMOON LAKE  STAGE",
        "HML30 ICU NEST WELL (index number 83)", "HML31 UFA NEST WELL (index number 64)"],
       (0.0102, 0.77, 0.41, 0.201), 11.2, 0.65, 2.35, 0.32)
title(ax_b, "HALFMOON LAKE", "(B)", 0.934)
note(ax_b, "SURFICIAL AQUIFER", (21.59, 48.39), (26.82, 46.46), relpos=(0.95, 0.1))
note(ax_b, "LAKE", (6.51, 40.75), (9.37, 42.24))
note(ax_b, "INTERMEDIATE CONFINING UNIT (ICU)", (8.72, 36.9), (23.19, 35.9))
note(ax_b, "UPPER FLORIDAN AQUIFER (UFA)", (22.78, 25.78), (21.1, 26.77), relpos=(0, 0.55))

# panel C
setup(ax_c, 30, 60)
hs, hl, hi, hu = draw(ax_c, c_lake, c_surf, c_icu_m, c_icu_v, c_ufa)
legend(ax_c, [hl, hs, hi, hu],
       ["ROUND LAKE STAGE", "BERGER SHALLOW WELL (index number 30)",
        "RL22 NORTH ICU NEST WELL (index number 22)", "BERGER DEEP WELL (index number 29)"],
       (0.009, 0.78, 0.456, 0.2), 11.3, 0.33, 1.8, 0.35)
title(ax_c, "ROUND LAKE", "(C)", 0.923)
note(ax_c, "INTERMEDIATE CONFINING UNIT (ICU)", (7.04, 46.09), (21.84, 46.09))
note(ax_c, "UPPER FLORIDAN AQUIFER (UFA)", (7.37, 36.4), (20.2, 39.19), relpos=(1, 0.55))
note(ax_c, "LAKE", (30.05, 54.16), (28.17, 54.1), relpos=(0, 0.5))
note(ax_c, "SURFICIAL AQUIFER", (28.46, 47.7), (36.75, 49.07), relpos=(1, 0.6))

# month and year labels under the bottom panel
trans = blended_transform_factory(ax_c.transData, ax_c.transAxes)
for m in range(5, 41):
    ax_c.text(m + 0.5, -0.044, MONTH_INITIALS[m % 12], transform=trans, ha="center", va="center",
              fontsize=15)
for yx, yl in zip(YEAR_LABEL_X, YEARS):
    ax_c.text(yx, -0.12, yl, transform=trans, ha="center", va="center", fontsize=19)
for b in YEAR_BREAKS:
    ax_c.plot([b, b], [0, -0.148], transform=trans, color="black", lw=1.1, clip_on=False)

# y axis titles
for yc in [0.8246, 0.5167, 0.2044]:
    fig.text(0.0394, yc, "WATER LEVEL,\nIN FEET ABOVE SEA LEVEL", rotation=90, ha="center",
             va="center", fontsize=19, linespacing=1.25, multialignment="center")

fig.savefig("out.png", dpi=100)
